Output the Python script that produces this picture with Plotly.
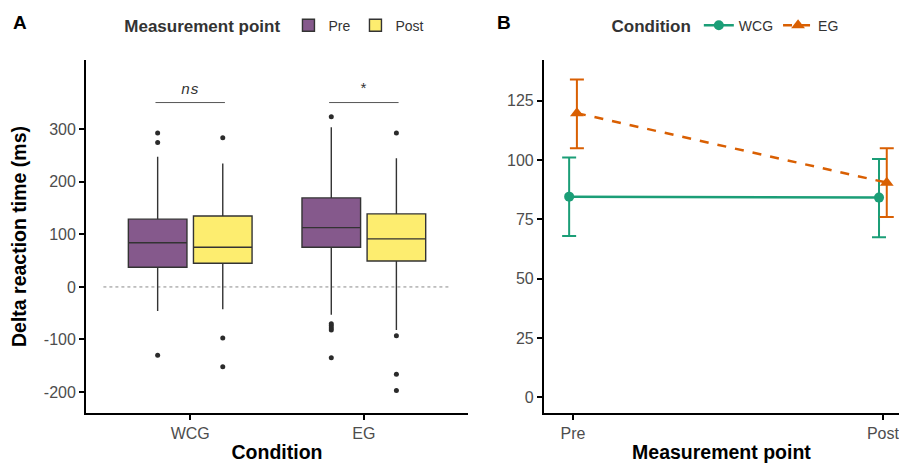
import plotly.graph_objects as go

# ---------------- Data ----------------
conditions = ["WCG", "EG"]

pre_q1 = [37.5, 75.5]
pre_median = [84, 113]
pre_q3 = [129, 169.5]
pre_lowerfence = [-46, -53]
pre_upperfence = [248, 304]
pre_outliers = [[293, 275, -130], [324, -70, -74, -78, -82, -135]]

post_q1 = [45, 49.5]
post_median = [75.5, 91.5]
post_q3 = [135, 139]
post_lowerfence = [-42.5, -82]
post_upperfence = [235, 245]
post_outliers = [[284, -97, -152], [293, -93, -166, -197]]

delta_ticks = [-200, -100, 0, 100, 200, 300]
delta_tick_labels = ["-200", "-100", "0", "100", "200", "300"]

sig_labels = ["<i>ns</i>", "*"]
sig_level = 351

time_points = ["Pre", "Post"]
wcg_mean = [84.6, 84.2]
wcg_upper = [101.1, 100.5]
wcg_lower = [68.0, 67.5]
eg_mean = [119.8, 90.5]
eg_upper = [134.0, 105.0]
eg_lower = [105.0, 76.0]

mean_ticks = [0, 25, 50, 75, 100, 125]

# ---------------- Styles ----------------
PURPLE = "#85598C"
YELLOW = "#FDED6F"
GREEN = "#1B9E77"
ORANGE = "#D95F02"
FONT = "Liberation Sans, Arial, sans-serif"

fig = go.Figure()

box_common = dict(
    boxpoints="outliers", jitter=0, pointpos=0, whiskerwidth=0,
    line=dict(color="#333333", width=1.4),
    marker=dict(color="#2b2b2b", size=5),
    xaxis="x", yaxis="y", legend="legend", hoverinfo="skip",
)
fig.add_trace(go.Box(
    name="Pre", x=conditions, y=pre_outliers, q1=pre_q1, median=pre_median,
    q3=pre_q3, lowerfence=pre_lowerfence, upperfence=pre_upperfence,
    fillcolor=PURPLE, offsetgroup="pre", **box_common))
fig.add_trace(go.Box(
    name="Post", x=conditions, y=post_outliers, q1=post_q1, median=post_median,
    q3=post_q3, lowerfence=post_lowerfence, upperfence=post_upperfence,
    fillcolor=YELLOW, offsetgroup="post", **box_common))

# Panel B
fig.add_trace(go.Scatter(
    name="WCG", x=time_points, y=wcg_mean, mode="lines+markers",
    line=dict(color=GREEN, width=2.5),
    marker=dict(symbol="circle", size=10, color=GREEN),
    error_y=dict(type="data", symmetric=False,
                 array=[u - m for u, m in zip(wcg_upper, wcg_mean)],
                 arrayminus=[m - l for m, l in zip(wcg_mean, wcg_lower)],
                 color=GREEN, thickness=2, width=7),
    offsetgroup="WCG", xaxis="x2", yaxis="y2", legend="legend2"))
fig.add_trace(go.Scatter(
    name="EG", x=time_points, y=eg_mean, mode="lines+markers",
    line=dict(color=ORANGE, width=2.5, dash="dash"),
    marker=dict(symbol="triangle-up", size=12, color=ORANGE),
    error_y=dict(type="data", symmetric=False,
                 array=[u - m for u, m in zip(eg_upper, eg_mean)],
                 arrayminus=[m - l for m, l in zip(eg_mean, eg_lower)],
                 color=ORANGE, thickness=2, width=7),
    offsetgroup="EG", xaxis="x2", yaxis="y2", legend="legend2"))

axis_common = dict(
    showline=True, linecolor="black", linewidth=2, ticks="outside",
    ticklen=5, tickwidth=1.5, tickcolor="black", showgrid=False, zeroline=False,
    automargin=False,
    tickfont=dict(family=FONT, size=16, color="#4d4d4d"),
)
ydom = [0.1175, 0.8718]
title_font = dict(size=19.5, family=FONT, color="black")

fig.update_layout(
    width=899, height=468, autosize=False,
    margin=dict(l=0, r=0, t=0, b=0),
    paper_bgcolor="white", plot_bgcolor="white",
    font=dict(family=FONT, color="black"),
    boxmode="group", boxgap=0.25, boxgroupgap=0.1,
    scattermode="group", scattergap=0.95,
    xaxis=dict(domain=[0.0957, 0.5206], range=[-0.6, 1.6], anchor="y",
               title=dict(text="<b>Condition</b>", font=title_font, standoff=4),
               **axis_common),
    yaxis=dict(domain=ydom, range=[-240, 432], anchor="x",
               tickvals=delta_ticks, ticktext=delta_tick_labels,
               title=dict(text="<b>Delta reaction time (ms)</b>", font=title_font, standoff=12),
               **axis_common),
    xaxis2=dict(domain=[0.605, 1.0], range=[-0.094, 1.052], anchor="y2",
                title=dict(text="<b>Measurement point</b>", font=title_font, standoff=4),
                **axis_common),
    yaxis2=dict(domain=ydom, range=[-6.6, 142.2], anchor="x2",
                tickvals=mean_ticks,
                **axis_common),
    legend=dict(orientation="h", x=0.136, y=0.944, xanchor="left", yanchor="middle",
                title=dict(text="<b>Measurement point</b>", font=dict(size=17), side="left"),
                font=dict(size=14, color="#333"), bgcolor="rgba(0,0,0,0)"),
    legend2=dict(orientation="h", x=0.678, y=0.944, xanchor="left", yanchor="middle",
                 title=dict(text="<b>Condition</b>", font=dict(size=17), side="left"),
                 font=dict(size=14, color="#333"), bgcolor="rgba(0,0,0,0)"),
)

# zero reference line in panel A
fig.add_shape(type="line", xref="x", yref="y", x0=-0.5, x1=1.5, y0=0, y1=0,
              line=dict(color="#8a8a8a", width=1, dash="dot"), layer="below")

# significance brackets
for i, lab in enumerate(sig_labels):
    fig.add_shape(type="line", xref="x", yref="y", x0=i - 0.2, x1=i + 0.2,
                  y0=sig_level, y1=sig_level, line=dict(color="#555", width=1))
    fig.add_annotation(x=i, y=sig_level, xref="x", yref="y", text=lab,
                       showarrow=False, yanchor="bottom", yshift=2,
                       font=dict(family="Liberation Mono, DejaVu Sans Mono, monospace",
                                 size=15, color="#333"))

# panel labels
fig.add_annotation(text="<b>A</b>", xref="paper", yref="paper", x=0.012, y=1 - 22 / 468,
                   xanchor="left", yanchor="middle", showarrow=False, font=dict(size=19))
fig.add_annotation(text="<b>B</b>", xref="paper", yref="paper", x=0.551, y=1 - 22 / 468,
                   xanchor="left", yanchor="middle", showarrow=False, font=dict(size=19))

# remove the browser's default 8px page margin so the figure fills the window
fig.write_html("out.html", config={"displayModeBar": False},
               post_script="document.body.style.margin='0';")
